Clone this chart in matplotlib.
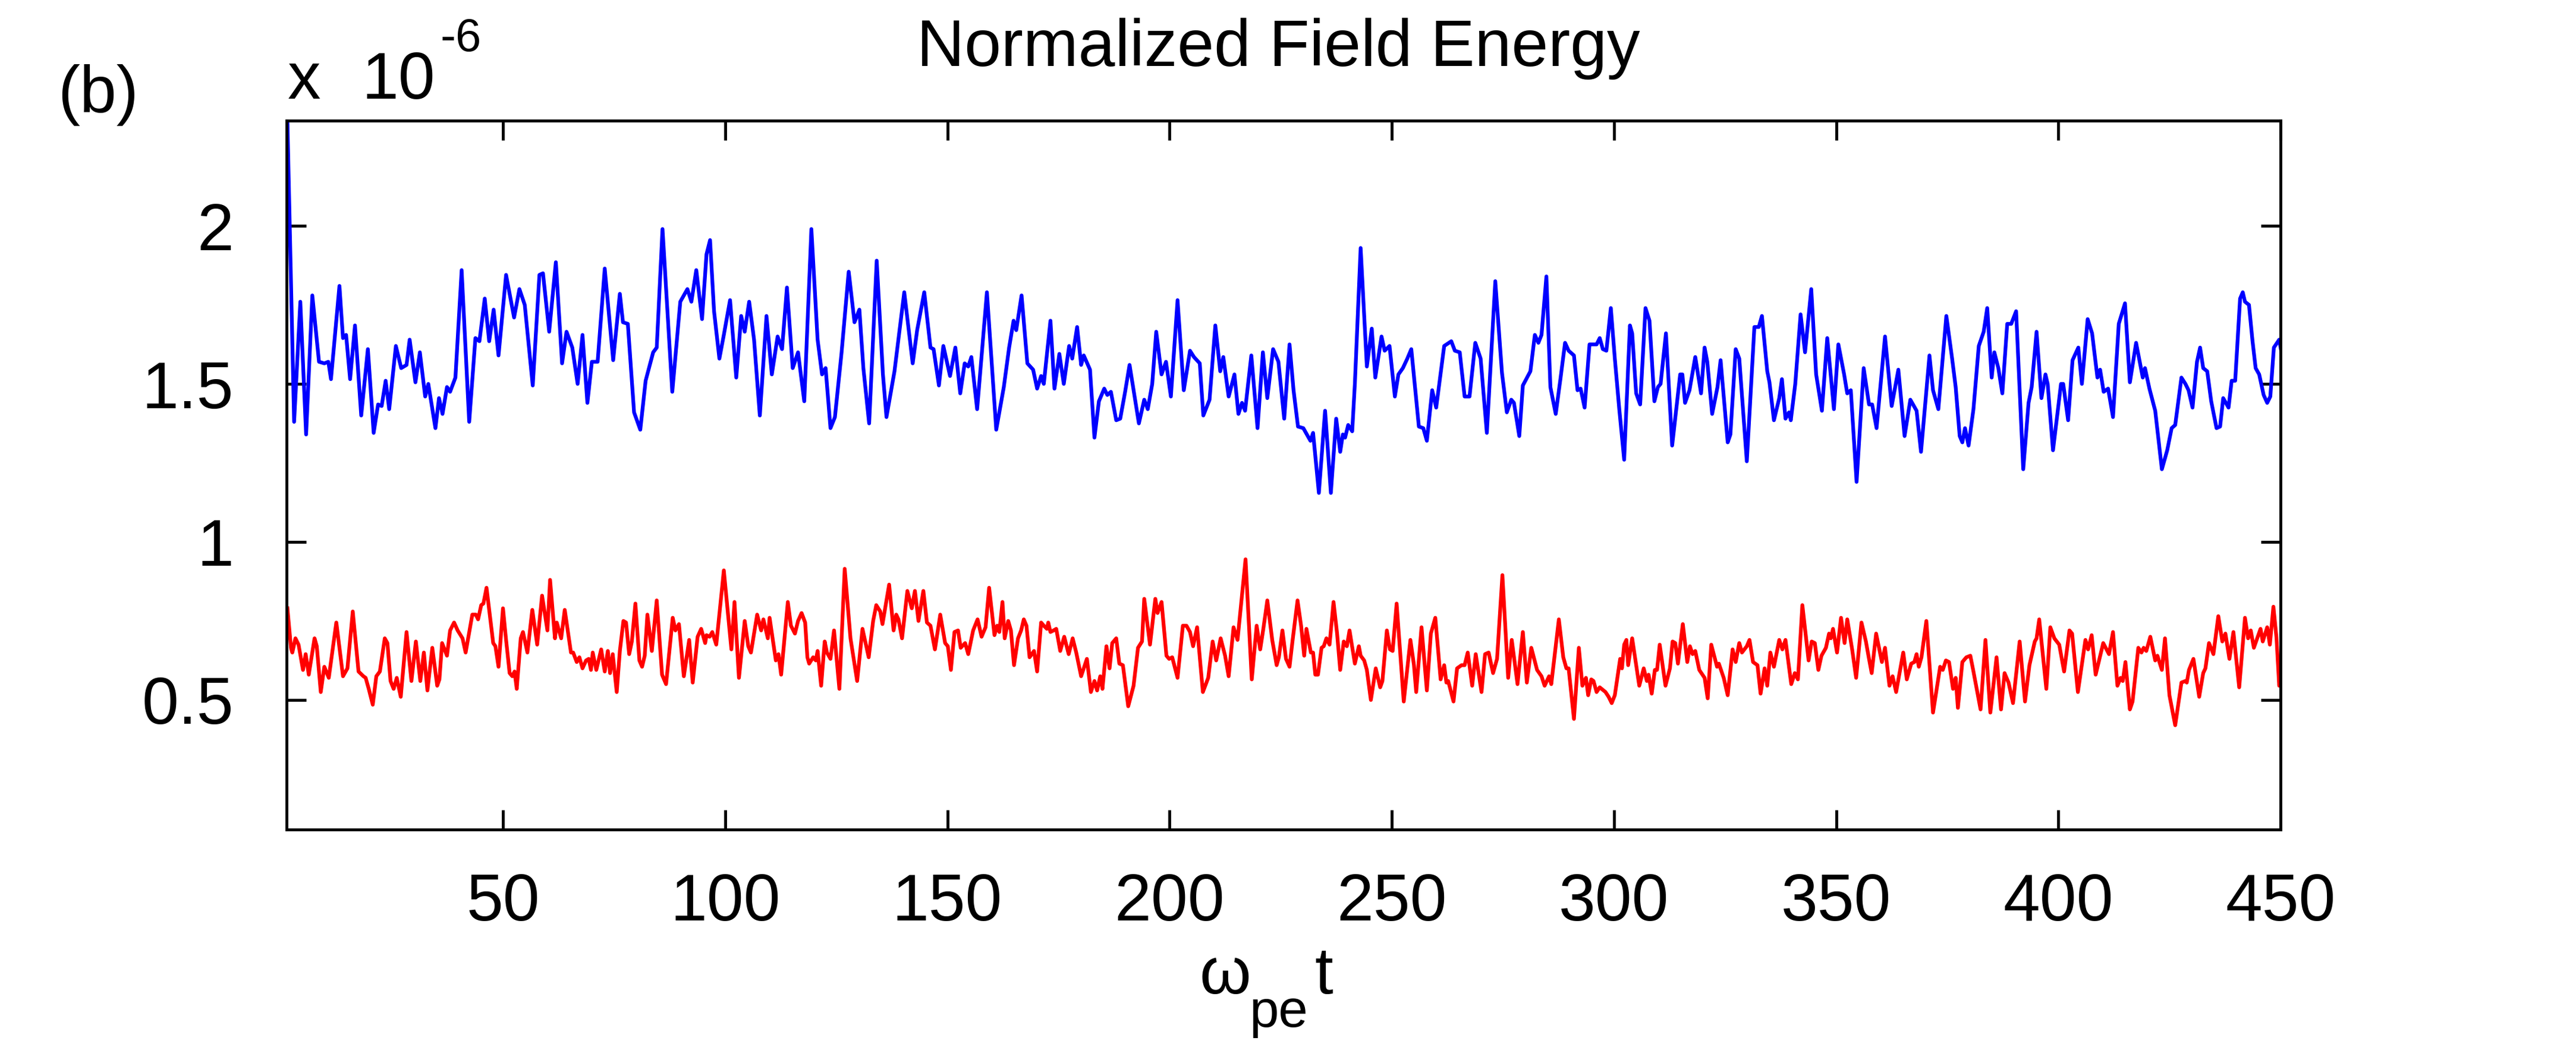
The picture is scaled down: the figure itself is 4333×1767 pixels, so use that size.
import numpy as np
import matplotlib
matplotlib.use('Agg')
import matplotlib.pyplot as plt

# time axis (omega_pe * t) and normalized field energy (units of 1e-6)
t_blue = [1.5, 3.0, 4.4, 5.7, 7.1, 8.6, 9.8, 10.7, 11.3, 13.2, 14.0, 14.7, 15.6, 16.7, 18.1, 19.6, 20.9, 21.9, 22.7, 23.6,
          24.4, 25.9, 27.1, 28.3, 29.0, 30.3, 31.3, 32.5, 33.2, 34.8, 35.6, 36.4, 37.4, 38.1, 39.3, 40.7, 42.4, 43.8, 44.7, 45.9,
          46.9, 47.9, 49.0, 50.7, 52.5, 53.7, 54.9, 56.7, 58.2, 59.0, 60.4, 61.9, 63.3, 64.3, 65.6, 66.8, 67.9, 69.0, 70.0, 71.3,
          72.9, 74.8, 76.3, 77.0, 78.1, 79.5, 80.9, 82.1, 83.8, 84.6, 85.9, 88.1, 89.9, 91.5, 92.4, 93.5, 94.8, 95.8, 96.6, 97.5,
          98.7, 99.7, 101.1, 102.5, 103.6, 104.4, 105.4, 106.5, 107.8, 109.3, 110.5, 111.8, 112.8, 113.9, 115.2, 116.4, 117.8, 119.4, 120.8, 121.8,
          122.6, 123.7, 124.7, 126.2, 127.8, 129.1, 130.2, 131.1, 132.4, 134.1, 135.5, 136.3, 138.1, 140.3, 142.2, 143.2, 144.8, 146.2, 146.9, 148.1,
          149.1, 150.6, 151.8, 152.9, 153.9, 154.7, 155.4, 156.7, 158.9, 161.0, 162.7, 163.9, 164.9, 165.5, 166.7, 168.0, 169.3, 170.2, 171.1, 171.7,
          173.2, 174.1, 175.2, 176.2, 177.4, 178.1, 179.2, 180.1, 180.7, 182.1, 183.1, 184.1, 185.3, 186.0, 186.8, 188.0, 188.9, 190.0, 191.0, 192.2,
          193.1, 194.3, 195.1, 196.1, 197.0, 198.2, 199.2, 200.3, 201.8, 203.2, 204.6, 205.5, 206.8, 207.6, 209.0, 210.3, 211.4, 212.1, 213.3, 214.6,
          215.5, 216.3, 217.0, 218.4, 219.8, 221.0, 222.0, 223.3, 224.5, 225.8, 227.0, 227.9, 228.9, 230.1, 231.7, 232.3, 233.6, 235.0, 236.3, 237.5,
          238.4, 239.0, 239.5, 240.2, 241.1, 241.7, 243.0, 244.4, 245.5, 246.3, 247.7, 248.4, 249.5, 250.7, 251.5, 252.5, 253.5, 254.4, 256.1, 257.1,
          257.9, 259.1, 260.0, 261.8, 263.4, 264.2, 265.3, 266.4, 267.5, 268.8, 270.0, 271.4, 273.3, 274.8, 275.9, 276.9, 277.5, 278.7, 279.5, 281.2,
          282.2, 283.0, 283.7, 284.8, 285.7, 286.9, 288.0, 289.0, 289.8, 291.0, 291.8, 292.5, 293.4, 294.5, 296.1, 296.8, 297.5, 298.3, 299.3, 300.2,
          301.2, 302.3, 303.6, 304.1, 305.0, 305.9, 307.1, 308.0, 309.1, 309.9, 310.5, 311.7, 313.1, 314.9, 315.4, 316.0, 317.0, 318.3, 319.6, 320.4,
          321.0, 322.1, 323.3, 324.0, 325.6, 326.2, 327.4, 328.2, 329.9, 331.6, 332.6, 333.3, 334.5, 335.0, 336.0, 337.2, 337.8, 338.6, 339.4, 339.8,
          340.8, 342.0, 343.0, 344.4, 345.5, 346.8, 348.0, 349.5, 350.5, 351.8, 352.5, 353.3, 354.6, 356.2, 357.4, 358.1, 359.1, 361.0, 362.5, 364.0,
          365.4, 366.7, 368.1, 369.1, 371.0, 371.8, 373.0, 374.8, 376.1, 376.9, 377.8, 378.4, 379.0, 379.8, 380.9, 382.1, 383.2, 384.0, 385.0, 385.6,
          386.5, 387.4, 388.5, 389.4, 390.5, 392.1, 393.3, 394.0, 395.1, 396.2, 397.1, 397.6, 398.8, 400.6, 401.1, 402.2, 403.2, 404.5, 405.3, 406.6,
          407.6, 408.8, 409.4, 410.2, 411.2, 412.3, 413.6, 415.0, 416.1, 417.5, 419.0, 419.5, 420.5, 421.8, 423.3, 424.5, 425.5, 426.3, 427.7, 428.6,
          429.3, 430.2, 431.2, 431.9, 432.6, 433.5, 434.4, 435.6, 436.4, 437.1, 438.3, 439.0, 439.8, 440.9, 441.5, 442.0, 442.9, 443.7, 444.4, 445.2,
          446.2, 447.0, 447.7, 448.5, 449.7, 450.4]
e_blue = [2.33, 1.38, 1.76, 1.34, 1.78, 1.57, 1.565, 1.57, 1.515, 1.81, 1.645, 1.655, 1.515, 1.685, 1.40, 1.61, 1.345, 1.435, 1.43, 1.51,
          1.42, 1.62, 1.55, 1.56, 1.64, 1.505, 1.60, 1.46, 1.50, 1.36, 1.455, 1.405, 1.49, 1.475, 1.52, 1.86, 1.38, 1.645, 1.635, 1.77,
          1.635, 1.735, 1.59, 1.845, 1.71, 1.80, 1.75, 1.495, 1.845, 1.85, 1.665, 1.885, 1.565, 1.665, 1.615, 1.50, 1.655, 1.44, 1.57, 1.57,
          1.865, 1.575, 1.785, 1.695, 1.69, 1.41, 1.355, 1.51, 1.60, 1.615, 1.99, 1.475, 1.76, 1.80, 1.76, 1.86, 1.705, 1.91, 1.955, 1.73,
          1.58, 1.655, 1.765, 1.52, 1.715, 1.665, 1.76, 1.64, 1.40, 1.715, 1.53, 1.65, 1.61, 1.805, 1.55, 1.60, 1.445, 1.99, 1.64, 1.53,
          1.55, 1.36, 1.395, 1.60, 1.855, 1.695, 1.735, 1.55, 1.375, 1.89, 1.53, 1.395, 1.54, 1.79, 1.565, 1.67, 1.79, 1.615, 1.61, 1.495,
          1.62, 1.525, 1.615, 1.47, 1.565, 1.555, 1.585, 1.42, 1.79, 1.355, 1.49, 1.615, 1.70, 1.67, 1.78, 1.565, 1.545, 1.485, 1.525, 1.50,
          1.70, 1.485, 1.595, 1.50, 1.62, 1.58, 1.68, 1.56, 1.59, 1.545, 1.33, 1.445, 1.485, 1.465, 1.475, 1.385, 1.39, 1.475, 1.56, 1.455,
          1.375, 1.45, 1.42, 1.50, 1.665, 1.53, 1.57, 1.46, 1.765, 1.48, 1.605, 1.585, 1.565, 1.40, 1.45, 1.685, 1.54, 1.585, 1.46, 1.53,
          1.405, 1.44, 1.415, 1.59, 1.36, 1.60, 1.455, 1.61, 1.57, 1.39, 1.625, 1.48, 1.365, 1.36, 1.32, 1.345, 1.155, 1.415, 1.155, 1.39,
          1.285, 1.34, 1.33, 1.37, 1.35, 1.50, 1.93, 1.555, 1.675, 1.52, 1.65, 1.605, 1.62, 1.46, 1.53, 1.55, 1.58, 1.61, 1.365, 1.36,
          1.32, 1.48, 1.425, 1.62, 1.635, 1.605, 1.60, 1.46, 1.46, 1.63, 1.58, 1.345, 1.825, 1.535, 1.41, 1.45, 1.44, 1.335, 1.495, 1.54,
          1.655, 1.63, 1.655, 1.84, 1.49, 1.405, 1.52, 1.63, 1.605, 1.59, 1.48, 1.485, 1.425, 1.625, 1.625, 1.645, 1.61, 1.605, 1.74, 1.58,
          1.42, 1.26, 1.685, 1.66, 1.47, 1.435, 1.74, 1.70, 1.445, 1.49, 1.50, 1.66, 1.305, 1.53, 1.53, 1.44, 1.48, 1.585, 1.47, 1.615,
          1.57, 1.405, 1.49, 1.575, 1.315, 1.34, 1.61, 1.58, 1.255, 1.68, 1.68, 1.715, 1.54, 1.505, 1.385, 1.455, 1.515, 1.39, 1.41, 1.385,
          1.50, 1.72, 1.60, 1.80, 1.53, 1.415, 1.645, 1.42, 1.625, 1.53, 1.47, 1.48, 1.19, 1.55, 1.435, 1.435, 1.36, 1.65, 1.43, 1.545,
          1.335, 1.45, 1.415, 1.285, 1.59, 1.48, 1.42, 1.715, 1.58, 1.49, 1.335, 1.315, 1.36, 1.305, 1.42, 1.62, 1.665, 1.74, 1.52, 1.60,
          1.55, 1.47, 1.69, 1.69, 1.73, 1.23, 1.44, 1.49, 1.665, 1.455, 1.53, 1.50, 1.29, 1.50, 1.50, 1.385, 1.575, 1.615, 1.50, 1.705,
          1.66, 1.52, 1.545, 1.475, 1.485, 1.395, 1.69, 1.755, 1.505, 1.63, 1.52, 1.55, 1.485, 1.415, 1.23, 1.29, 1.36, 1.37, 1.52, 1.50,
          1.48, 1.425, 1.57, 1.615, 1.55, 1.54, 1.445, 1.36, 1.365, 1.455, 1.425, 1.51, 1.51, 1.77, 1.79, 1.76, 1.75, 1.635, 1.55, 1.53,
          1.465, 1.44, 1.46, 1.615, 1.64, 1.585]

t_red = [1.5, 2.3, 2.6, 3.3, 4.0, 5.0, 5.6, 6.3, 7.6, 8.1, 9.0, 9.8, 10.8, 12.5, 14.0, 15.0, 16.2, 17.5, 18.6, 19.1,
         19.8, 20.7, 21.5, 22.3, 23.4, 24.0, 24.7, 25.4, 26.1, 27.0, 28.3, 29.4, 30.4, 31.4, 32.2, 33.0, 34.1, 35.2, 35.7, 36.3,
         37.4, 38.1, 39.0, 39.8, 40.9, 41.6, 43.1, 43.9, 44.4, 45.1, 45.6, 46.3, 47.8, 48.3, 49.0, 50.0, 50.7, 51.5, 52.1, 52.6,
         53.1, 54.0, 54.5, 55.5, 56.6, 57.7, 58.8, 60.0, 60.6, 61.7, 62.1, 63.1, 63.9, 65.3, 65.8, 66.6, 67.2, 67.9, 68.7, 69.3,
         69.8, 70.2, 71.0, 72.1, 72.9, 73.6, 74.1, 74.7, 75.6, 76.3, 77.1, 77.7, 78.4, 79.0, 79.8, 80.7, 81.3, 81.9, 82.5, 83.5,
         84.6, 85.8, 86.7, 88.2, 88.8, 89.6, 90.7, 91.9, 92.7, 93.8, 94.6, 95.5, 95.8, 96.5, 97.1, 98.0, 99.7, 101.4, 102.1, 103.1,
         104.4, 105.2, 105.8, 107.2, 108.1, 108.6, 109.6, 110.0, 111.4, 112.0, 112.6, 114.1, 114.8, 115.7, 116.4, 117.2, 118.0, 118.5, 118.9, 119.8,
         120.4, 120.8, 121.6, 122.4, 122.9, 123.7, 124.5, 125.7, 126.9, 128.2, 129.7, 130.9, 132.3, 133.3, 134.0, 134.9, 135.4, 136.9, 137.9, 138.5,
         139.0, 139.8, 141.0, 142.0, 142.7, 143.5, 144.6, 145.4, 146.2, 147.2, 148.4, 149.5, 150.1, 150.8, 151.6, 152.4, 153.0, 154.0, 154.7, 155.8,
         156.8, 157.7, 158.6, 159.4, 160.6, 161.2, 161.7, 162.4, 162.9, 163.7, 164.3, 165.0, 165.9, 166.6, 167.2, 167.8, 168.5, 169.5, 170.2, 171.1,
         171.7, 172.4, 172.7, 173.2, 173.9, 174.5, 175.4, 176.3, 177.3, 178.2, 179.0, 180.1, 181.4, 182.3, 183.1, 183.7, 184.4, 184.9, 185.8, 186.5,
         187.1, 188.0, 188.7, 189.5, 190.7, 191.9, 192.9, 193.8, 194.3, 195.6, 196.8, 197.3, 198.2, 199.3, 199.9, 200.6, 201.8, 203.0, 203.8, 204.6,
         205.3, 206.2, 207.5, 208.7, 209.7, 210.5, 211.5, 212.5, 213.3, 214.4, 215.3, 217.1, 218.5, 219.6, 220.4, 221.1, 222.0, 223.1, 224.1, 224.6,
         225.4, 226.2, 227.0, 227.7, 228.8, 229.6, 230.3, 230.8, 231.8, 232.3, 232.8, 233.4, 234.2, 234.7, 235.3, 236.0, 236.9, 237.7, 238.4, 239.2,
         239.9, 240.5, 241.7, 242.6, 243.0, 243.8, 244.4, 245.3, 246.4, 247.4, 247.9, 248.9, 249.6, 250.2, 251.1, 251.8, 252.7, 254.2, 255.0, 255.5,
         256.7, 257.9, 258.8, 259.8, 261.0, 261.8, 262.3, 262.7, 263.9, 264.7, 265.7, 266.4, 267.1, 268.1, 268.9, 270.2, 271.0, 271.8, 272.8, 273.7,
         274.9, 276.2, 277.0, 278.3, 279.5, 280.4, 281.4, 282.7, 283.7, 284.4, 285.4, 285.9, 287.6, 288.6, 289.3, 289.8, 291.0, 292.1, 292.9, 293.7,
         294.2, 294.9, 295.4, 296.1, 296.8, 298.1, 298.8, 299.5, 300.2, 301.4, 301.8, 302.3, 302.8, 303.2, 304.1, 305.7, 306.7, 307.4, 307.8, 308.5,
         309.2, 309.7, 310.3, 311.6, 312.6, 313.2, 313.8, 314.4, 315.5, 316.5, 317.1, 317.7, 318.3, 319.2, 320.4, 321.1, 321.9, 323.2, 323.6, 324.7,
         325.6, 326.7, 327.4, 328.2, 328.8, 329.9, 330.5, 331.3, 332.3, 333.0, 333.9, 334.5, 335.2, 336.0, 337.2, 337.9, 338.6, 339.9, 340.7, 341.4,
         342.4, 343.8, 344.5, 345.2, 346.0, 346.7, 347.7, 348.4, 348.8, 349.3, 350.2, 351.1, 351.9, 352.5, 353.6, 354.5, 355.7, 356.7, 357.4, 358.0,
         359.0, 360.3, 361.0, 362.0, 362.7, 363.5, 365.1, 365.9, 366.9, 367.6, 368.1, 368.6, 369.2, 370.3, 371.8, 373.4, 374.0, 374.7, 375.4, 376.3,
         376.9, 377.4, 378.4, 379.3, 380.2, 380.9, 382.5, 383.6, 384.7, 386.1, 387.1, 387.9, 388.8, 389.8, 391.3, 392.5, 393.5, 394.7, 395.1, 395.7,
         397.3, 398.2, 399.1, 400.2, 401.3, 402.5, 403.1, 404.4, 406.1, 406.7, 407.5, 408.4, 410.1, 411.4, 412.3, 413.3, 414.0, 414.5, 415.1, 416.1,
         416.7, 418.0, 418.7, 419.2, 419.8, 420.7, 421.8, 422.3, 423.3, 424.0, 425.0, 426.3, 427.7, 428.6, 428.9, 429.4, 430.4, 431.7, 432.6, 433.1,
         433.9, 434.9, 436.0, 436.9, 437.6, 438.5, 439.4, 440.7, 442.0, 442.7, 443.3, 444.0, 445.5, 446.0, 447.0, 447.6, 448.4, 449.1, 449.7, 450.4]
e_red = [0.79, 0.665, 0.65, 0.695, 0.675, 0.595, 0.645, 0.58, 0.695, 0.67, 0.525, 0.605, 0.57, 0.745, 0.575, 0.60, 0.78, 0.59, 0.575, 0.57,
         0.535, 0.485, 0.575, 0.59, 0.695, 0.68, 0.56, 0.535, 0.57, 0.51, 0.715, 0.56, 0.685, 0.56, 0.65, 0.53, 0.665, 0.545, 0.565, 0.68,
         0.64, 0.72, 0.745, 0.72, 0.695, 0.65, 0.77, 0.77, 0.755, 0.80, 0.805, 0.855, 0.68, 0.67, 0.605, 0.79, 0.69, 0.585, 0.575, 0.59,
         0.535, 0.695, 0.715, 0.65, 0.785, 0.675, 0.83, 0.72, 0.88, 0.695, 0.745, 0.695, 0.785, 0.65, 0.65, 0.62, 0.635, 0.60, 0.625, 0.63,
         0.595, 0.65, 0.595, 0.66, 0.59, 0.655, 0.585, 0.645, 0.525, 0.655, 0.75, 0.745, 0.645, 0.685, 0.805, 0.625, 0.605, 0.64, 0.77, 0.655,
         0.815, 0.58, 0.55, 0.76, 0.72, 0.74, 0.575, 0.69, 0.555, 0.70, 0.725, 0.68, 0.705, 0.70, 0.715, 0.675, 0.91, 0.66, 0.81, 0.57,
         0.75, 0.67, 0.65, 0.77, 0.72, 0.755, 0.695, 0.76, 0.625, 0.645, 0.58, 0.81, 0.735, 0.71, 0.75, 0.775, 0.745, 0.635, 0.615, 0.635,
         0.625, 0.655, 0.545, 0.685, 0.65, 0.63, 0.72, 0.535, 0.915, 0.695, 0.56, 0.725, 0.635, 0.75, 0.80, 0.78, 0.74, 0.865, 0.72, 0.77,
         0.755, 0.695, 0.845, 0.79, 0.845, 0.75, 0.845, 0.745, 0.735, 0.66, 0.77, 0.68, 0.67, 0.595, 0.715, 0.72, 0.665, 0.68, 0.645, 0.72,
         0.755, 0.70, 0.73, 0.855, 0.705, 0.735, 0.715, 0.81, 0.695, 0.75, 0.72, 0.61, 0.695, 0.72, 0.755, 0.735, 0.635, 0.655, 0.59, 0.745,
         0.735, 0.725, 0.745, 0.715, 0.72, 0.725, 0.655, 0.70, 0.645, 0.695, 0.65, 0.575, 0.63, 0.525, 0.56, 0.53, 0.575, 0.535, 0.67, 0.60,
         0.68, 0.695, 0.615, 0.61, 0.48, 0.545, 0.665, 0.685, 0.82, 0.675, 0.82, 0.775, 0.81, 0.64, 0.63, 0.635, 0.57, 0.735, 0.735, 0.715,
         0.67, 0.73, 0.525, 0.57, 0.685, 0.625, 0.695, 0.64, 0.575, 0.73, 0.69, 0.945, 0.565, 0.735, 0.66, 0.725, 0.815, 0.69, 0.61, 0.635,
         0.72, 0.63, 0.605, 0.69, 0.815, 0.735, 0.64, 0.725, 0.65, 0.65, 0.58, 0.58, 0.665, 0.67, 0.695, 0.675, 0.81, 0.71, 0.595, 0.685,
         0.67, 0.72, 0.615, 0.67, 0.64, 0.625, 0.595, 0.50, 0.60, 0.54, 0.56, 0.72, 0.66, 0.655, 0.805, 0.67, 0.495, 0.69, 0.61, 0.525,
         0.73, 0.53, 0.71, 0.76, 0.565, 0.61, 0.555, 0.56, 0.495, 0.60, 0.61, 0.61, 0.65, 0.545, 0.645, 0.525, 0.645, 0.65, 0.585, 0.63,
         0.895, 0.57, 0.69, 0.55, 0.715, 0.555, 0.665, 0.595, 0.575, 0.545, 0.575, 0.55, 0.755, 0.635, 0.60, 0.60, 0.44, 0.665, 0.545, 0.57,
         0.515, 0.565, 0.56, 0.525, 0.54, 0.525, 0.51, 0.49, 0.515, 0.63, 0.60, 0.675, 0.69, 0.61, 0.695, 0.545, 0.60, 0.56, 0.58, 0.52,
         0.595, 0.595, 0.675, 0.545, 0.60, 0.685, 0.68, 0.615, 0.74, 0.62, 0.67, 0.645, 0.655, 0.595, 0.57, 0.505, 0.675, 0.605, 0.615, 0.57,
         0.515, 0.66, 0.62, 0.68, 0.65, 0.67, 0.69, 0.62, 0.61, 0.52, 0.60, 0.545, 0.65, 0.605, 0.69, 0.66, 0.69, 0.55, 0.585, 0.565,
         0.80, 0.625, 0.685, 0.68, 0.595, 0.64, 0.665, 0.71, 0.695, 0.725, 0.65, 0.76, 0.68, 0.755, 0.66, 0.57, 0.745, 0.685, 0.63, 0.585,
         0.71, 0.62, 0.665, 0.545, 0.575, 0.525, 0.65, 0.565, 0.615, 0.62, 0.645, 0.605, 0.635, 0.75, 0.46, 0.605, 0.595, 0.625, 0.62, 0.535,
         0.57, 0.475, 0.62, 0.635, 0.64, 0.59, 0.47, 0.69, 0.46, 0.635, 0.47, 0.585, 0.555, 0.49, 0.685, 0.495, 0.61, 0.685, 0.695, 0.755,
         0.535, 0.73, 0.695, 0.675, 0.59, 0.72, 0.71, 0.525, 0.69, 0.66, 0.705, 0.58, 0.68, 0.645, 0.715, 0.545, 0.57, 0.56, 0.62, 0.47,
         0.495, 0.665, 0.65, 0.665, 0.655, 0.70, 0.625, 0.64, 0.595, 0.695, 0.515, 0.42, 0.555, 0.56, 0.555, 0.595, 0.63, 0.51, 0.585, 0.60,
         0.68, 0.645, 0.765, 0.685, 0.71, 0.63, 0.715, 0.54, 0.76, 0.695, 0.72, 0.665, 0.725, 0.685, 0.73, 0.675, 0.795, 0.695, 0.545, 0.575]

x_ticks = [50, 100, 150, 200, 250, 300, 350, 400, 450]
y_ticks = [0.5, 1.0, 1.5, 2.0]
y_tick_labels = ['0.5', '1', '1.5', '2']

plt.rcParams['font.family'] = ['Liberation Sans', 'DejaVu Sans']

fs = 80
W, H = 4333, 1767

fig = plt.figure(figsize=(W / 100, H / 100), dpi=100)
ax = fig.add_axes([482 / W, 1 - 1396 / H, (3836 - 482) / W, (1396 - 203) / H])

ax.plot(t_blue, e_blue, color='#0000ff', lw=4.5)
ax.plot(t_red, e_red, color='#ff0000', lw=4.5)

ax.set_xlim(1.3, 450)
ax.set_ylim(0.09, 2.333)
ax.set_xticks(x_ticks)
ax.set_yticks(y_ticks)
ax.set_yticklabels(y_tick_labels)
ax.tick_params(direction='in', length=24, width=3.5, labelsize=fs, top=True, right=True)
ax.tick_params(axis='x', pad=52)
ax.tick_params(axis='y', pad=64)
for s in ax.spines.values():
    s.set_linewidth(3.5)

# title, exponent, panel tag
fig.text(2150 / W, 1 - 111 / H, 'Normalized Field Energy', ha='center', va='baseline', fontsize=fs)
fig.text(484 / W, 1 - 166 / H, 'x', ha='left', va='baseline', fontsize=fs)
fig.text(732 / W, 1 - 166 / H, '10', ha='right', va='baseline', fontsize=fs)
fig.text(741 / W, 1 - 86 / H, '-6', ha='left', va='baseline', fontsize=fs * 0.7)
fig.text(97 / W, 1 - 189 / H, '(b)', ha='left', va='baseline', fontsize=fs)

# x label: omega_pe t
fig.text(2018 / W, 1 - 1672 / H, '\u03c9', ha='left', va='baseline', fontsize=fs)
fig.text(2101 / W, 1 - 1728 / H, 'pe', ha='left', va='baseline', fontsize=fs * 0.8)
fig.text(2211 / W, 1 - 1672 / H, 't', ha='left', va='baseline', fontsize=fs)

fig.savefig('out.png', dpi=100)
